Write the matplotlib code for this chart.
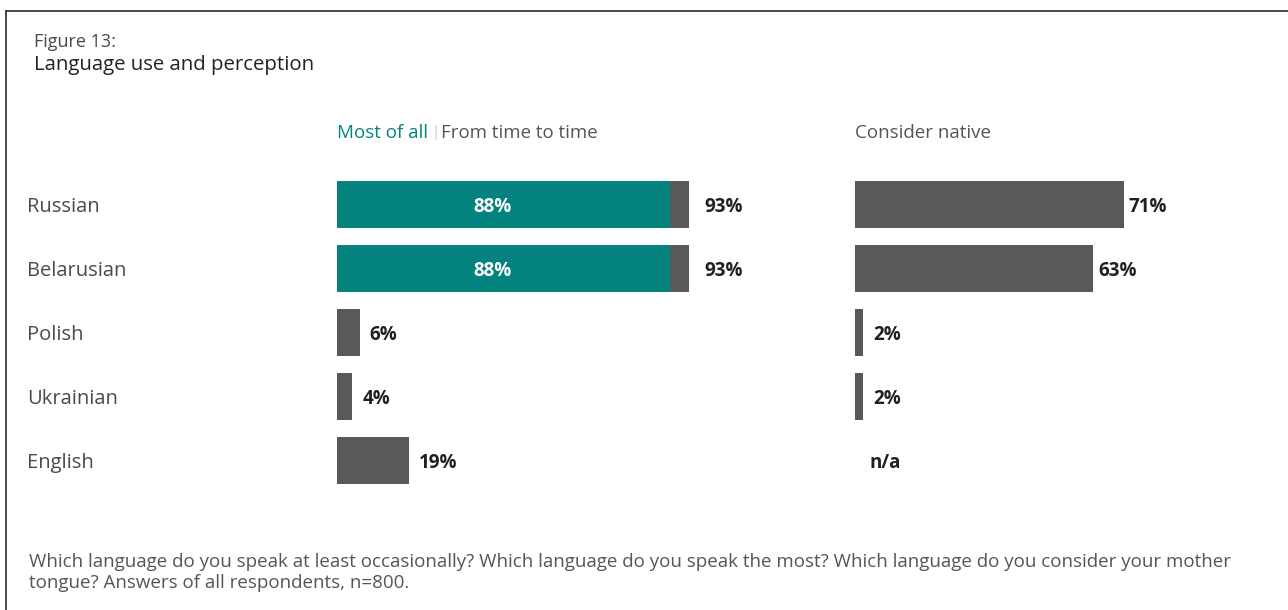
import matplotlib.pyplot as plt
from matplotlib.lines import Line2D
from matplotlib.transforms import blended_transform_factory

plt.rcParams['font.family'] = ['Open Sans', 'DejaVu Sans']

languages = ['Russian', 'Belarusian', 'Polish', 'Ukrainian', 'English']
most_of_all = [88, 88, 0, 0, 0]
speak_total = [93, 93, 6, 4, 19]
consider_native = [71, 63, 2, 2, None]

TEAL = '#04837f'
GREY = '#58595b'
INK = '#231f20'
TEXT = '#4a4a4a'

W, H = 1288, 610
fig = plt.figure(figsize=(W / 100, H / 100), dpi=100)

px_per_pct = 3.785
row_step = 63.9
bar_h = 47 / row_step
top_px, bot_px = 160, 490
first_row, last_row = 204.5, 460


def make_axes(x0, width):
    ax = fig.add_axes([x0 / W, 1 - bot_px / H, width / W, (bot_px - top_px) / H])
    ax.set_xlim(0, width / px_per_pct)
    ax.set_ylim(4 + (bot_px - last_row) / row_step, -(first_row - top_px) / row_step)
    ax.axis('off')
    return ax


ax1 = make_axes(337, 430)
ax2 = make_axes(855, 400)
rows = list(range(len(languages)))
dy = 3 / row_step  # nudge text down a little to sit on the bar centre
VAL_FS = 13.5

# left panel: total speakers in grey, "most of all" share in teal on top
ax1.barh(rows, speak_total, height=bar_h, color=GREY)
ax1.barh(rows, most_of_all, height=bar_h, color=TEAL)
for y, tot, most in zip(rows, speak_total, most_of_all):
    off = 10 if tot < 50 else 15
    ax1.text(tot + off / px_per_pct, y + dy, f'{tot}%', va='center', ha='left',
             fontsize=VAL_FS, fontweight='bold', color=INK)
    if most:
        ax1.text(most / 2 - 3, y + dy, f'{most}%', va='center', ha='center',
                 fontsize=VAL_FS, fontweight='bold', color='white')

# right panel: consider native
vals = [v if v is not None else 0 for v in consider_native]
ax2.barh(rows, vals, height=bar_h, color=GREY)
for y, v in zip(rows, consider_native):
    if v is None:
        ax2.text(14 / px_per_pct, y + dy, 'n/a', va='center', ha='left',
                 fontsize=VAL_FS, fontweight='bold', color=INK)
    else:
        off = 5 if v > 10 else 11
        ax2.text(v + off / px_per_pct, y + dy, f'{v}%', va='center', ha='left',
                 fontsize=VAL_FS, fontweight='bold', color=INK)

# category names at the left edge
tr = blended_transform_factory(fig.transFigure, ax1.transData)
for y, name in zip(rows, languages):
    ax1.text(27 / W, y + dy, name, transform=tr, va='center', ha='left',
             fontsize=14.5, color=TEXT)

# column headers
hy = 1 - 133 / H
fig.text(337 / W, hy, 'Most of all', color=TEAL, fontsize=13.5, va='center')
fig.text(431 / W, hy, '|', color='#c8c8c8', fontsize=11, va='center')
fig.text(441 / W, hy, 'From time to time', color='#555555', fontsize=13.4, va='center')
fig.text(855 / W, hy, 'Consider native', color='#555555', fontsize=13.5, va='center')

# title block
fig.text(34 / W, 1 - 42 / H, 'Figure 13:', fontsize=13, color=TEXT, va='center')
fig.text(34 / W, 1 - 65 / H, 'Language use and perception', fontsize=14.7,
         color='#222222', va='center')

# footnote
fig.text(29 / W, 1 - 562 / H,
         'Which language do you speak at least occasionally? Which language do you '
         'speak the most? Which language do you consider your mother',
         fontsize=13.5, color='#555555', va='center')
fig.text(29 / W, 1 - 583 / H, 'tongue? Answers of all respondents, n=800.',
         fontsize=13.5, color='#555555', va='center')

# frame: top and left rules
fig.add_artist(Line2D([5.5 / W, 1], [1 - 11 / H, 1 - 11 / H], color='#3a3a3a', lw=1.3))
fig.add_artist(Line2D([5.5 / W, 5.5 / W], [0, 1 - 11 / H], color='#3a3a3a', lw=1.3))

fig.savefig('out.png', dpi=100)
